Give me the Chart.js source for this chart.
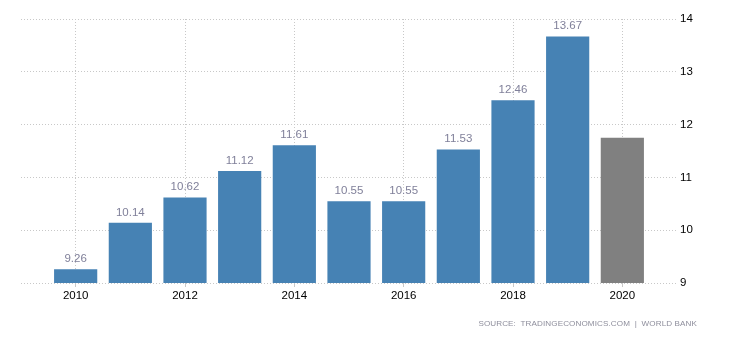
<!DOCTYPE html>
<html>
<head>
<meta charset="utf-8">
<script src="https://cdn.jsdelivr.net/npm/chart.js@4.4.1/dist/chart.umd.min.js"></script>
<style>
  html, body { margin: 0; padding: 0; background: #fff; }
  #wrap { position: relative; width: 730px; height: 340px; }
  #source {
    position: absolute; right: 33px; top: 319px;
    font: 8.1px "Liberation Sans", Arial, sans-serif;
    color: #8e8e9c; white-space: pre; letter-spacing: 0.1px;
  }
</style>
</head>
<body>
<div id="wrap">
  <canvas id="chart" width="730" height="340"></canvas>
  <div id="source">SOURCE:  TRADINGECONOMICS.COM  |  WORLD BANK</div>
</div>
<script>
// Annual values, 2010–2020
const years = [2010, 2011, 2012, 2013, 2014, 2015, 2016, 2017, 2018, 2019, 2020];
const values = [9.26, 10.14, 10.62, 11.12, 11.61, 10.55, 10.55, 11.53, 12.46, 13.67, 11.75];
// Years that carry a value label above the bar
const labelledYears = [2010, 2011, 2012, 2013, 2014, 2015, 2016, 2017, 2018, 2019];
// Axis ticks
const xTickYears = [2010, 2012, 2014, 2016, 2018, 2020];
const yTickValues = [9, 10, 11, 12, 13, 14];

const BAR_BLUE = '#4682b4';
const BAR_GREY = '#808080';
const latestYear = 2020;
const FONT = '"Liberation Sans", Arial, sans-serif';

const valueLabels = {
  id: 'valueLabels',
  afterDatasetsDraw(chart) {
    const { ctx } = chart;
    const meta = chart.getDatasetMeta(0);
    ctx.save();
    ctx.font = '11.5px ' + FONT;
    ctx.fillStyle = '#80809a';
    ctx.textAlign = 'center';
    ctx.textBaseline = 'alphabetic';
    meta.data.forEach((bar, i) => {
      if (!labelledYears.includes(years[i])) return;
      ctx.fillText(values[i].toFixed(2), bar.x, bar.y - 7);
    });
    ctx.restore();
  }
};

new Chart(document.getElementById('chart'), {
  type: 'bar',
  data: {
    datasets: [{
      data: years.map((y, i) => ({ x: y, y: values[i] })),
      backgroundColor: years.map(y => (y === latestYear ? BAR_GREY : BAR_BLUE)),
      borderWidth: 0,
      categoryPercentage: 1,
      barPercentage: 0.79
    }]
  },
  options: {
    responsive: false,
    animation: false,
    devicePixelRatio: 1,
    layout: { padding: { top: 19, left: 21, right: 0, bottom: 0 } },
    plugins: { legend: { display: false }, tooltip: { enabled: false } },
    scales: {
      x: {
        type: 'linear',
        min: 2009,
        max: 2021,
        offset: false,
        afterBuildTicks(scale) { scale.ticks = xTickYears.map(v => ({ value: v })); },
        afterFit(scale) { scale.height = 57; },
        ticks: {
          autoSkip: false, maxRotation: 0, padding: 2,
          color: '#000', font: { family: FONT, size: 11.5 },
          callback: v => String(v)
        },
        grid: { offset: false, color: '#c8c8c8', lineWidth: 1, tickLength: 4, drawTicks: true },
        border: { display: false, dash: [1, 2] }
      },
      y: {
        position: 'right',
        min: 9,
        max: 14,
        afterBuildTicks(scale) { scale.ticks = yTickValues.map(v => ({ value: v })); },
        afterFit(scale) { scale.width = 53; },
        ticks: {
          padding: 3, color: '#000', font: { family: FONT, size: 11.5 },
          callback: v => String(v)
        },
        grid: { color: '#c8c8c8', lineWidth: 1, drawTicks: false },
        border: { display: false, dash: [1, 2] }
      }
    }
  },
  plugins: [valueLabels]
});
</script>
</body>
</html>
